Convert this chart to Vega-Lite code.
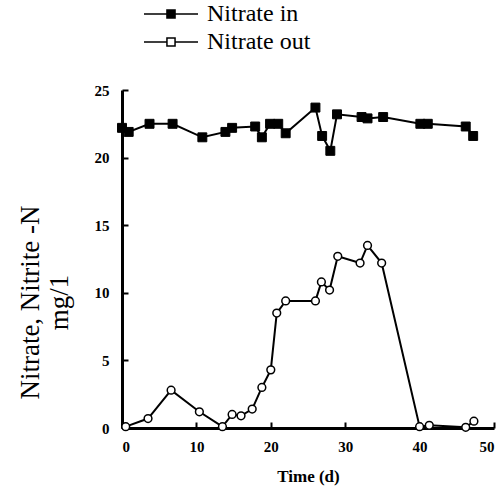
{
  "$schema": "https://vega.github.io/schema/vega-lite/v6.json",
  "autosize": "none",
  "width": 372,
  "height": 338,
  "padding": {"left": 122, "top": 90, "right": 8, "bottom": 69},
  "background": "white",
  "config": {
    "font": "Times New Roman, Liberation Serif, serif",
    "view": {"stroke": null},
    "axis": {
      "grid": false,
      "domainColor": "black",
      "domainWidth": 3,
      "tickColor": "black",
      "tickWidth": 2,
      "tickSize": -6,
      "labelFont": "Times New Roman, Liberation Serif, serif",
      "labelFontWeight": "bold",
      "labelFontSize": 15,
      "labelColor": "black",
      "titleFont": "Times New Roman, Liberation Serif, serif",
      "titleColor": "black"
    },
    "legend": {
      "labelFont": "Times New Roman, Liberation Serif, serif",
      "labelFontSize": 24,
      "labelColor": "black"
    }
  },
  "data": {
    "values": [
      {"day": 0, "value": 22.2, "series": "Nitrate  in"},
      {"day": 0.9, "value": 21.9, "series": "Nitrate  in"},
      {"day": 3.7, "value": 22.5, "series": "Nitrate  in"},
      {"day": 6.8, "value": 22.5, "series": "Nitrate  in"},
      {"day": 10.8, "value": 21.5, "series": "Nitrate  in"},
      {"day": 13.9, "value": 21.9, "series": "Nitrate  in"},
      {"day": 14.8, "value": 22.2, "series": "Nitrate  in"},
      {"day": 17.9, "value": 22.3, "series": "Nitrate  in"},
      {"day": 18.8, "value": 21.5, "series": "Nitrate  in"},
      {"day": 19.9, "value": 22.5, "series": "Nitrate  in"},
      {"day": 21.0, "value": 22.5, "series": "Nitrate  in"},
      {"day": 22.0, "value": 21.8, "series": "Nitrate  in"},
      {"day": 26.0, "value": 23.7, "series": "Nitrate  in"},
      {"day": 26.9, "value": 21.6, "series": "Nitrate  in"},
      {"day": 28.0, "value": 20.5, "series": "Nitrate  in"},
      {"day": 28.9, "value": 23.2, "series": "Nitrate  in"},
      {"day": 32.2, "value": 23.0, "series": "Nitrate  in"},
      {"day": 33.0, "value": 22.9, "series": "Nitrate  in"},
      {"day": 35.1, "value": 23.0, "series": "Nitrate  in"},
      {"day": 40.1, "value": 22.5, "series": "Nitrate  in"},
      {"day": 41.1, "value": 22.5, "series": "Nitrate  in"},
      {"day": 46.2, "value": 22.3, "series": "Nitrate  in"},
      {"day": 47.2, "value": 21.6, "series": "Nitrate  in"},
      {"day": 0.5, "value": 0.1, "series": "Nitrate out"},
      {"day": 3.5, "value": 0.7, "series": "Nitrate out"},
      {"day": 6.6, "value": 2.8, "series": "Nitrate out"},
      {"day": 10.4, "value": 1.2, "series": "Nitrate out"},
      {"day": 13.5, "value": 0.1, "series": "Nitrate out"},
      {"day": 14.8, "value": 1.0, "series": "Nitrate out"},
      {"day": 16.0, "value": 0.9, "series": "Nitrate out"},
      {"day": 17.5, "value": 1.4, "series": "Nitrate out"},
      {"day": 18.8, "value": 3.0, "series": "Nitrate out"},
      {"day": 20.0, "value": 4.3, "series": "Nitrate out"},
      {"day": 20.8, "value": 8.5, "series": "Nitrate out"},
      {"day": 22.0, "value": 9.4, "series": "Nitrate out"},
      {"day": 26.0, "value": 9.4, "series": "Nitrate out"},
      {"day": 26.8, "value": 10.8, "series": "Nitrate out"},
      {"day": 27.9, "value": 10.2, "series": "Nitrate out"},
      {"day": 29.0, "value": 12.7, "series": "Nitrate out"},
      {"day": 32.0, "value": 12.2, "series": "Nitrate out"},
      {"day": 33.0, "value": 13.5, "series": "Nitrate out"},
      {"day": 34.9, "value": 12.2, "series": "Nitrate out"},
      {"day": 40.0, "value": 0.1, "series": "Nitrate out"},
      {"day": 41.3, "value": 0.2, "series": "Nitrate out"},
      {"day": 46.2, "value": 0.05, "series": "Nitrate out"},
      {"day": 47.3, "value": 0.5, "series": "Nitrate out"}
    ]
  },
  "encoding": {
    "x": {
      "field": "day",
      "type": "quantitative",
      "scale": {"domain": [0, 50], "nice": false, "zero": false},
      "axis": {
        "values": [0, 10, 20, 30, 40, 50],
        "title": "Time (d)",
        "titleFontSize": 17,
        "titleFontWeight": "bold",
        "titlePadding": 14,
        "labelPadding": 17
      }
    },
    "y": {
      "field": "value",
      "type": "quantitative",
      "scale": {"domain": [0, 25], "nice": false},
      "axis": {
        "values": [0, 5, 10, 15, 20, 25],
        "title": ["Nitrate, Nitrite -N", "mg/1"],
        "titleFontSize": 27,
        "titleFontWeight": "normal",
        "titleX": -78,
        "titleY": 212,
        "labelPadding": 19
      }
    }
  },
  "layer": [
    {
      "mark": {"type": "line", "color": "black", "strokeWidth": 2},
      "encoding": {"detail": {"field": "series"}}
    },
    {
      "transform": [{"filter": "datum.series === 'Nitrate  in'"}],
      "mark": {"type": "point", "shape": "square", "filled": true, "stroke": "black", "strokeWidth": 1, "size": 80, "opacity": 1},
      "encoding": {
        "fill": {
          "field": "series",
          "scale": {"domain": ["Nitrate  in", "Nitrate out"], "range": ["black", "white"]},
          "legend": {
            "title": null,
            "orient": "none",
            "legendX": 37,
            "legendY": -88,
            "padding": 0,
            "rowPadding": 4,
            "symbolType": "M-3,0H-0.45M0.45,0H3M-0.45,-0.45H0.45V0.45H-0.45Z",
            "symbolSize": 324,
            "symbolStrokeColor": "black",
            "symbolStrokeWidth": 1.5,
            "symbolOpacity": 1,
            "labelFont": "Times New Roman, Liberation Serif, serif",
            "labelFontSize": 24,
            "labelColor": "black",
            "labelOffset": 24
          }
        }
      }
    },
    {
      "transform": [{"filter": "datum.series === 'Nitrate out'"}],
      "mark": {"type": "point", "shape": "circle", "filled": true, "stroke": "black", "strokeWidth": 1.5, "size": 60, "opacity": 1},
      "encoding": {
        "fill": {
          "field": "series",
          "scale": {"domain": ["Nitrate  in", "Nitrate out"], "range": ["black", "white"]}
        }
      }
    }
  ]
}
